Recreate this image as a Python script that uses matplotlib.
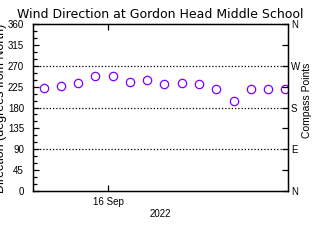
import datetime as dt
import matplotlib
matplotlib.use('Agg')
import matplotlib.pyplot as plt
import matplotlib.dates as mdates
from matplotlib.ticker import FixedLocator, MultipleLocator

start = dt.datetime(2022, 9, 15, 12, 45)
times = [start + dt.timedelta(hours=3*i) for i in range(15)]
direction = [223, 226, 233, 248, 247, 235, 239, 231, 233, 231, 220, 194, 220, 220, 220]

compass_ticks = [0, 45, 90, 135, 180, 225, 270, 315, 360]
compass_labels = ['N', '', 'E', '', 'S', '', 'W', '', 'N']
grid_levels = [90, 180, 270]

plt.rcParams['font.family'] = ['Liberation Sans', 'DejaVu Sans']

fig = plt.figure(figsize=(3.2, 2.4), dpi=100)
ax = fig.add_axes([33/320, 49/240, 255/320, 167/240])

ax.plot(times, direction, linestyle='none', marker='o', markersize=6,
        markerfacecolor='none', markeredgecolor='#8000ff', markeredgewidth=0.9)

for g in grid_levels:
    ax.axhline(g, color='black', linestyle=(0, (1, 1.6)), linewidth=0.9)

ax.set_ylim(0, 360)
ax.set_xlim(dt.datetime(2022, 9, 15, 10, 55), dt.datetime(2022, 9, 17, 7, 12))
ax.yaxis.set_major_locator(MultipleLocator(45))
ax.yaxis.set_minor_locator(MultipleLocator(15))
ax.xaxis.set_major_locator(FixedLocator([mdates.date2num(dt.datetime(2022, 9, 16))]))
ax.xaxis.set_major_formatter(mdates.DateFormatter('%-d %b'))

ax.tick_params(axis='both', which='both', direction='in', width=0.9, labelsize=7)
ax.tick_params(axis='y', which='major', length=4, pad=6.5)
ax.tick_params(axis='y', which='minor', length=3)
ax.tick_params(axis='x', which='major', length=4, top=True, pad=4)
for s in ax.spines.values():
    s.set_linewidth(1.0)

ax2 = ax.twinx()
ax2.set_ylim(0, 360)
ax2.set_yticks(compass_ticks)
ax2.set_yticklabels(compass_labels)
ax2.tick_params(axis='y', direction='in', length=4, width=0.9, labelsize=7, pad=2)

ax.set_title('Wind Direction at Gordon Head Middle School', fontsize=9,
             family='DejaVu Sans', pad=4)
fig.text(160/320, 1 - 214/240, '2022', ha='center', va='center', fontsize=7)
fig.text(1/320, 1 - 108/240, 'Direction (degrees from North)', rotation=90,
         ha='center', va='center', fontsize=9)
fig.text(307/320, 1 - 100/240, 'Compass Points', rotation=90,
         ha='center', va='center', fontsize=7.5)

fig.savefig('out.png', dpi=100)
